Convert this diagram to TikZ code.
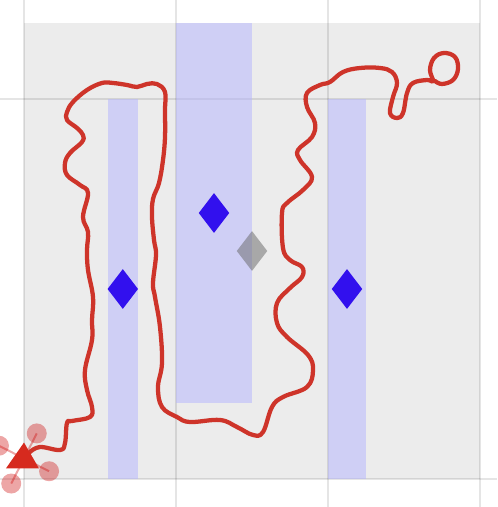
\documentclass[tikz,border=0pt]{standalone}
\usetikzlibrary{shapes.geometric}
\definecolor{floorgray}{RGB}{236,236,236}
\definecolor{zoneblue}{RGB}{180,180,255}
\definecolor{goalblue}{RGB}{50,16,238}
\definecolor{trackred}{RGB}{206,52,42}
\definecolor{dronered}{RGB}{214,42,30}
\tikzset{
  gridline/.style={black,opacity=0.1,line width=1.1pt},
  zone/.style={fill=zoneblue,fill opacity=0.5},
  goal/.style={diamond,fill=goalblue,minimum width=23pt,minimum height=30pt,inner sep=0pt},
  ghost/.style={diamond,fill=black!60,fill opacity=0.5,minimum width=23pt,minimum height=30pt,inner sep=0pt},
  track/.style={trackred,line width=3.2pt,line cap=round,line join=round},
  rotorarm/.style={red!80!black,opacity=0.35,line width=1.5pt},
  rotor/.style={red!80!black,opacity=0.35}
}
\begin{document}
\begin{tikzpicture}[x=57pt,y=57pt]
  \useasboundingbox (-0.3158,-0.3684) rectangle (6.2237,6.3026);
  \fill[floorgray] (0,0) rectangle (6,6);
  \foreach \gx in {0,2,4,6} {
    \draw[gridline] (\gx,-0.3684) -- (\gx,6.3026);
  }
  \foreach \gy in {0,5} {
    \draw[gridline] (-0.3158,\gy) -- (6.2237,\gy);
  }
  \fill[zone] (1.1,0) rectangle (1.5,5);
  \fill[zone] (2,1) rectangle (3,6);
  \fill[zone] (4,0) rectangle (4.5,5);
  \node[goal] (goalA) at (1.3,2.5) {};
  \node[goal] (goalB) at (2.5,3.5) {};
  \node[goal] (goalC) at (4.25,2.5) {};
  \node[ghost] (ghost) at (3,3) {};
  \coordinate (drone) at (0,0.27);
  \begin{scope}[x=0.75pt,y=-0.75pt,shift={(-18pt,359.25pt)}]
    \draw[track] plot[smooth,tension=0.65] coordinates {
      (30,452) (40,447) (60,450) (65,443) (67,423) (72,421) (90,417) (92,407)
      (87,390) (85,370) (92,340) (92,320) (93,297) (88,270) (87,250) (88,232)
      (83,217) (88,193) (80,185) (67,175) (65,163) (70,153) (82,142) (83,135)
      (77,128) (67,120) (67,112) (73,102) (87,90) (102,83) (113,83) (127,85)
      (137,87) (147,84) (157,84) (165,92) (165,110) (165,137) (163,160) (159,183)
      (153,199) (152,217) (154,240) (156,255) (153,283) (155,297) (160,327)
      (162,363) (158,387) (162,407) (177,417) (190,422) (220,420) (237,427)
      (253,435) (263,432) (272,407) (283,397) (307,387) (313,370) (308,355)
      (287,337) (277,323) (277,303) (290,288) (302,277) (302,267) (290,260)
      (283,248) (282,213) (287,203) (303,190) (312,177) (300,160) (298,150)
      (312,137) (315,123) (307,107) (307,93) (320,85) (330,82) (343,72) (360,68)
      (380,68) (392,72) (397,83) (393,97) (390,113) (397,118) (403,113) (407,93)
      (413,83) (427,80) (433,81) (430,70) (434,58) (444,53) (455,57) (458,69)
      (453,80) (442,84) (435,81)};
  \end{scope}
  \foreach \ang in {63,153,243,333} {
    \draw[rotorarm] (drone) -- ++(\ang:0.37) coordinate (rotor\ang);
    \fill[rotor] (rotor\ang) circle (7.5pt);
  }
  \fill[dronered] (drone) ++(0,0.21) -- ++(-0.237,-0.34) -- ++(0.434,0) -- cycle;
\end{tikzpicture}
\end{document}
